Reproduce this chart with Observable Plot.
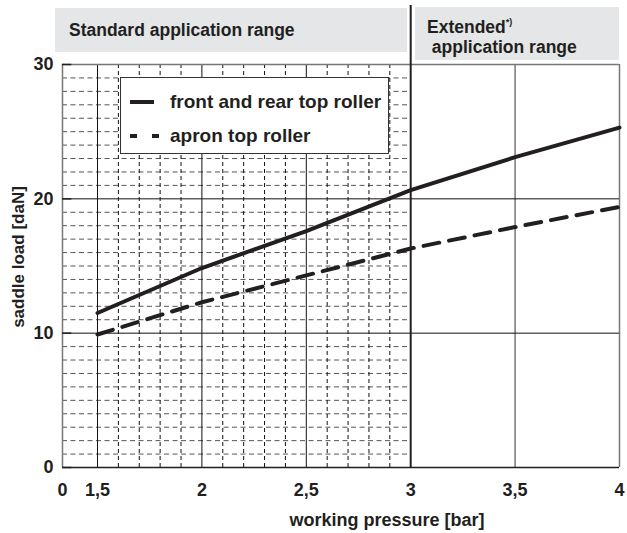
<!DOCTYPE html>
<html>
<head>
<meta charset="utf-8">
<script src="https://cdn.jsdelivr.net/npm/d3@7"></script>
<script src="https://cdn.jsdelivr.net/npm/@observablehq/plot@0.6"></script>
<style>
  html, body { margin: 0; padding: 0; background: #fff; }
  #wrap { position: relative; width: 627px; height: 533px; font-family: "Liberation Sans", Arial, sans-serif; font-weight: bold; color: #231f20; }
  #wrap > svg.plot { position: absolute; left: 0; top: 0; }
  .hdr { position: absolute; background: #e5e6e7; font-size: 17.5px; }
  #legend { position: absolute; left: 120px; top: 77px; width: 267px; height: 75px; border: 1px solid #333; background: #fff; }
</style>
</head>
<body>
<div id="wrap">
  <div class="hdr" style="left:55px;top:8px;width:352px;height:44px;">
    <div style="position:absolute;left:14px;top:12px;line-height:20px;">Standard application range</div>
  </div>
  <div class="hdr" style="left:415px;top:7px;width:204px;height:53px;">
    <div style="position:absolute;left:12px;top:5px;line-height:20px;">Extended<sup style="font-size:9px;vertical-align:8px;">*)</sup><br>&nbsp;application range</div>
  </div>
</div>
<script>
// ---- data ----
const pressure = [1.5, 2, 2.5, 3, 3.5, 4];
const frontRear = [11.5, 14.85, 17.6, 20.65, 23.1, 25.3];
const apron = [9.9, 12.3, 14.3, 16.3, 17.9, 19.4];
const xTicks = [0, 1.5, 2, 2.5, 3, 3.5, 4];
const yTicks = [0, 10, 20, 30];
const seriesNames = ["front and rear top roller", "apron top roller"];
const xLabel = "working pressure [bar]";
const yLabel = "saddle load [daN]";
const standardEnd = 3;
const headerTop = 34.4; // load units, top of range divider

// minor grid (standard range)
const minorX = d3.range(16, 30).filter(d => d % 5 !== 0).map(d => d / 10);
const minorY = d3.range(1, 30).filter(d => d % 10 !== 0);

const rows = [];
pressure.forEach((p, i) => {
  rows.push({p, v: frontRear[i], s: seriesNames[0]});
  rows.push({p, v: apron[i], s: seriesNames[1]});
});

const ink = "#231f20";
const W = 627, H = 533;
const chart = Plot.plot({
  width: W, height: H,
  marginLeft: 62, marginRight: 8, marginTop: 64, marginBottom: 66,
  style: {fontFamily: "'Liberation Sans', Arial, sans-serif", background: "transparent", color: ink},
  x: {type: "linear", domain: [0, 1.5, 4], range: [62, 97, 619]},
  y: {domain: [0, 30]},
  marks: [
    Plot.ruleY(minorY, {x1: 0, x2: standardEnd, stroke: "#555", strokeWidth: 1, strokeDasharray: "5,3.5"}),
    Plot.ruleX(minorX, {y1: 0, y2: 30, stroke: "#111", strokeWidth: 1, strokeDasharray: "4,3"}),
    Plot.ruleX(xTicks.filter(d => d > 0 && d < standardEnd), {y1: 0, y2: 30, stroke: "#111", strokeWidth: 1}),
    Plot.ruleX(xTicks.filter(d => d > standardEnd), {y1: 0, y2: 30, stroke: "#777", strokeWidth: 1.5}),
    Plot.ruleY(yTicks.filter(d => d > 0 && d < 30), {x1: 0, x2: 4, stroke: "#111", strokeWidth: 1}),
    Plot.ruleY([30], {x1: 0, x2: 4, stroke: "#777", strokeWidth: 1.5}),
    Plot.ruleX([0], {y1: 0, y2: 30, stroke: "#777", strokeWidth: 1.5}),
    Plot.ruleY([0], {x1: 0, x2: 4, stroke: ink, strokeWidth: 1.5}),
    Plot.ruleY(yTicks, {x1: 0, x2: 0.4, stroke: ink, strokeWidth: 1.5}),
    Plot.ruleX([standardEnd], {y1: 0, y2: headerTop, stroke: ink, strokeWidth: 2}),
    Plot.line(rows.filter(d => d.s === seriesNames[0]), {x: "p", y: "v", stroke: ink, strokeWidth: 4}),
    Plot.line(rows.filter(d => d.s === seriesNames[1]), {x: "p", y: "v", stroke: ink, strokeWidth: 4, strokeDasharray: "16,10"}),
    Plot.axisX(xTicks, {tickSize: 0, tickPadding: 16, fontSize: 18, fontWeight: "bold", fill: ink,
      tickFormat: d => String(d).replace(".", ","), label: null}),
    Plot.axisY(yTicks, {tickSize: 0, tickPadding: 9, fontSize: 18, fontWeight: "bold", fill: ink, label: null}),
    Plot.text([xLabel], {frameAnchor: "bottom", textAnchor: "middle", dx: 46, dy: 58, fontSize: 18, fontWeight: "bold", fill: ink}),
    Plot.text([yLabel], {frameAnchor: "left", textAnchor: "middle", dx: -44, dy: -9, rotate: -90, fontSize: 17, fontWeight: "bold", fill: ink})
  ]
});
const wrap = document.getElementById("wrap");
wrap.insertBefore(chart, wrap.firstChild);

// legend
const legend = document.createElement("div");
legend.id = "legend";
legend.innerHTML = `<svg width="267" height="75" style="position:absolute;left:0;top:0;font-family:'Liberation Sans',Arial,sans-serif;font-weight:bold;">
  <line x1="9" x2="33" y1="24" y2="24" stroke="${ink}" stroke-width="4"/>
  <text x="49" y="30" font-size="19" fill="${ink}">${seriesNames[0]}</text>
  <line x1="9" x2="39" y1="58" y2="58" stroke="${ink}" stroke-width="4" stroke-dasharray="7,15"/>
  <text x="49" y="64" font-size="19" fill="${ink}">${seriesNames[1]}</text>
</svg>`;
wrap.appendChild(legend);
</script>
</body>
</html>
